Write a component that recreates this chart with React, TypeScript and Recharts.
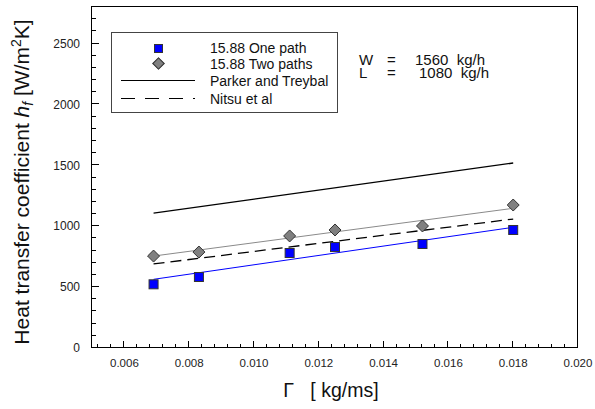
import { ComposedChart, Scatter, XAxis, YAxis } from 'recharts'

// film flow rate Γ [kg/ms]
const gamma = [0.0069, 0.0083, 0.0111, 0.0125, 0.0152, 0.018]
const onePath = [523, 583, 780, 829, 854, 969]
const twoPaths = [755, 788, 920, 969, 1002, 1174]

// straight lines drawn between the first and last Γ
const fitRange = [0.0069, 0.018]
const onePathFit = [564, 991]
const twoPathsFit = [755, 1147]
const parkerTreybal = [1108, 1519]
const nitsu = [690, 1059]

const xLabels = [0.006, 0.008, 0.01, 0.012, 0.014, 0.016, 0.018, 0.02]
const yLabels = [0, 500, 1000, 1500, 2000, 2500]

const X_MIN = 0.005
const X_MAX = 0.02
const Y_MAX = 2800

const xTicks = Array.from({ length: 38 }, (_, i) => (52 + 4 * i) / 10000)
const yTicks = Array.from({ length: 28 }, (_, i) => i * 100)

const FONT = '"Liberation Sans", Arial, sans-serif'
const INK = '#222'
const FRAME = '#000'

const W = 595
const H = 409
const MARGIN = { top: 7, right: 17, bottom: 0, left: 0 }
const Y_AXIS_W = 92
const X_AXIS_H = 61
// plot box, same as the one recharts lays out from the margins and axis sizes
const PL = MARGIN.left + Y_AXIS_W
const PT = MARGIN.top
const PW = W - PL - MARGIN.right
const PH = H - PT - MARGIN.bottom - X_AXIS_H
const sx = (v: number) => Math.round(PL + ((v - X_MIN) / (X_MAX - X_MIN)) * PW) - 1
const sy = (v: number) => Math.round(PT + PH - (v / Y_MAX) * PH) - 1

const pts = (xs: number[], ys: number[]) => xs.map((x, i) => ({ x, y: ys[i] }))
const isMajorX = (v: number) => xLabels.some((l) => Math.abs(l - v) < 1e-9)
const fmtX = (v: number) => (isMajorX(v) ? v.toFixed(3) : '')
const fmtY = (v: number) => (yLabels.includes(v) ? String(v) : '')

const Square = (p: any) => (
  <rect x={p.cx - 4.5} y={p.cy - 4.5} width={9} height={9} fill="#0000ff" stroke="#333" strokeWidth={1} />
)

const Diamond = (p: any) => (
  <polygon
    points={`${p.cx},${p.cy - 6} ${p.cx + 6},${p.cy} ${p.cx},${p.cy + 6} ${p.cx - 6},${p.cy}`}
    fill="#808080"
    stroke="#333"
    strokeWidth={1}
  />
)

const NoDot = () => <g />

const txt = { position: 'absolute' as const, fontSize: 15, lineHeight: '13px', color: '#111', whiteSpace: 'pre' as const }
const legendText = ['15.88 One path', '15.88 Two paths', 'Parker and Treybal', 'Nitsu et al']
const legendRows = [15, 31, 48, 66]

export default function App() {
  return (
    <div style={{ position: 'absolute', left: 0, top: 0, width: W, height: H, background: '#fff', fontFamily: FONT }}>
      <ComposedChart width={W} height={H} margin={MARGIN}>
        <XAxis
          dataKey="x"
          type="number"
          domain={[X_MIN, X_MAX]}
          ticks={xTicks}
          interval={0}
          height={X_AXIS_H}
          tickSize={0}
          tickMargin={11}
          tickFormatter={fmtX}
          tick={{ fontSize: 11.5, fill: INK, fontFamily: FONT }}
          tickLine={false}
          axisLine={false}
        />
        <YAxis
          dataKey="y"
          type="number"
          domain={[0, Y_MAX]}
          ticks={yTicks}
          interval={0}
          width={Y_AXIS_W}
          tickSize={0}
          tickMargin={12}
          tickFormatter={fmtY}
          tick={{ fontSize: 12, fill: INK, fontFamily: FONT }}
          tickLine={false}
          axisLine={false}
        />

        <Scatter data={pts(fitRange, parkerTreybal)} line={{ stroke: '#000', strokeWidth: 1.3 }} shape={<NoDot />} isAnimationActive={false} />
        <Scatter data={pts(fitRange, nitsu)} line={{ stroke: '#000', strokeWidth: 1.3, strokeDasharray: '11 6' }} shape={<NoDot />} isAnimationActive={false} />
        <Scatter data={pts(fitRange, twoPathsFit)} line={{ stroke: '#8a8a8a', strokeWidth: 1 }} shape={<NoDot />} isAnimationActive={false} />
        <Scatter data={pts(fitRange, onePathFit)} line={{ stroke: '#0000ff', strokeWidth: 1 }} shape={<NoDot />} isAnimationActive={false} />
        <Scatter data={pts(gamma, onePath)} shape={<Square />} isAnimationActive={false} />
        <Scatter data={pts(gamma, twoPaths)} shape={<Diamond />} isAnimationActive={false} />
      </ComposedChart>

      {/* plot frame and inward tick marks */}
      <div style={{ position: 'absolute', left: PL - 1, top: PT - 1, width: PW + 1, height: PH + 1, border: `1px solid ${FRAME}`, boxSizing: 'border-box' }} />
      {xTicks.map((v) => (
        <div key={'x' + v} style={{ position: 'absolute', left: sx(v), top: PT + PH - (isMajorX(v) ? 7 : 4), width: 1, height: isMajorX(v) ? 7 : 4, background: FRAME }} />
      ))}
      {yTicks.map((v) => (
        <div key={'y' + v} style={{ position: 'absolute', left: PL, top: sy(v), width: yLabels.includes(v) ? 7 : 4, height: 1, background: FRAME }} />
      ))}

      {/* legend box */}
      <div style={{ position: 'absolute', left: 111, top: 32, width: 227, height: 81, border: '1px solid #444', boxSizing: 'border-box' }}>
        <div style={{ position: 'absolute', left: 42, top: 11, width: 9, height: 9, background: '#0000ff', border: '1px solid #333', boxSizing: 'border-box' }} />
        <div style={{ position: 'absolute', left: 42, top: 26, width: 9, height: 9, background: '#808080', border: '1px solid #333', transform: 'rotate(45deg)', boxSizing: 'border-box' }} />
        <div style={{ position: 'absolute', left: 9, top: 47, width: 74, height: 1, background: '#000' }} />
        <div
          style={{
            position: 'absolute',
            left: 9,
            top: 65,
            width: 74,
            height: 1,
            background: 'repeating-linear-gradient(to right, #000 0 14px, transparent 14px 24px)',
          }}
        />
        {legendText.map((t, i) => (
          <div key={t} style={{ position: 'absolute', left: 98, top: legendRows[i] - 8, fontSize: 14, lineHeight: '16px', color: '#111', whiteSpace: 'nowrap' }}>
            {t}
          </div>
        ))}
      </div>

      {/* operating conditions */}
      <div style={{ ...txt, left: 359, top: 53 }}>W</div>
      <div style={{ ...txt, left: 387, top: 53 }}>=</div>
      <div style={{ ...txt, left: 415, top: 53 }}>1560  kg/h</div>
      <div style={{ ...txt, left: 359, top: 66 }}>L</div>
      <div style={{ ...txt, left: 387, top: 66 }}>=</div>
      <div style={{ ...txt, left: 419, top: 66 }}>1080  kg/h</div>

      {/* axis titles */}
      <div
        style={{
          position: 'absolute',
          left: 22,
          top: 182,
          transform: 'translate(-50%, -50%) rotate(-90deg)',
          fontSize: 21,
          lineHeight: '24px',
          color: '#111',
          whiteSpace: 'nowrap',
        }}
      >
        Heat transfer coefficient <i>h</i>
        <sub style={{ fontSize: 14, fontStyle: 'italic', verticalAlign: '-4px' }}>f</sub> [W/m
        <sup style={{ fontSize: 14, verticalAlign: '8px' }}>2</sup>K]
      </div>
      <div style={{ position: 'absolute', left: 331, top: 380, transform: 'translateX(-50%)', fontSize: 19.5, lineHeight: '20px', color: '#111', whiteSpace: 'pre' }}>
        {'Γ   [ kg/ms]'}
      </div>
    </div>
  )
}
